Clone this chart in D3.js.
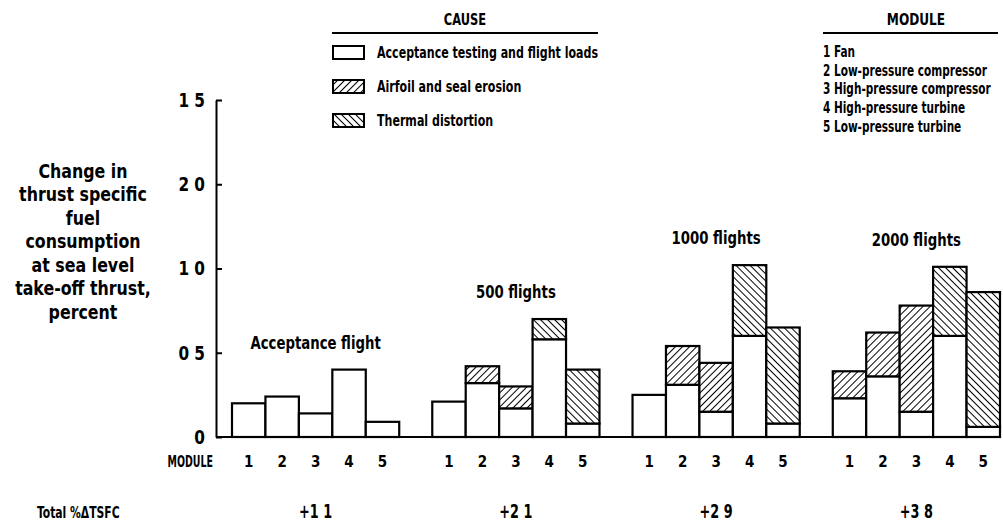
<!DOCTYPE html>
<html>
<head>
<meta charset="utf-8">
<script src="https://cdn.jsdelivr.net/npm/d3@7"></script>
<style>
  body { margin: 0; background: #fff; }
  svg text { font-family: "Liberation Sans Narrow", "Arial Narrow", "DejaVu Sans Condensed", sans-serif; font-weight: bold; fill: #000; }
</style>
</head>
<body>
<svg id="chart" width="1003" height="525"></svg>
<script>
// Data
const groups = ["Acceptance flight", "500 flights", "1000 flights", "2000 flights"];
const modules = ["1", "2", "3", "4", "5"];
const totals = ["+1 1", "+2 1", "+2 9", "+3 8"];

// percent change, per group, per module (stacked bottom to top)
const testing = [
    [0.20, 0.24, 0.14, 0.40, 0.09],
    [0.21, 0.32, 0.17, 0.58, 0.08],
    [0.25, 0.31, 0.15, 0.60, 0.08],
    [0.23, 0.36, 0.15, 0.60, 0.06]
];
const erosion = [
    [0, 0, 0, 0, 0],
    [0, 0.10, 0.13, 0, 0],
    [0, 0.23, 0.29, 0, 0],
    [0.16, 0.26, 0.63, 0, 0]
];
const thermal = [
    [0, 0, 0, 0, 0],
    [0, 0, 0, 0.12, 0.32],
    [0, 0, 0, 0.42, 0.57],
    [0, 0, 0, 0.41, 0.80]
];

const yTicks = [0, 0.5, 1.0, 1.5, 2.0];
const yTickLabels = ["0", "0 5", "1 0", "2 0", "1 5"];   // as printed

const causes = ["Acceptance testing and flight loads", "Airfoil and seal erosion", "Thermal distortion"];
const moduleNames = ["1 Fan", "2 Low-pressure compressor", "3 High-pressure compressor", "4 High-pressure turbine", "5 Low-pressure turbine"];
const yTitle = ["Change in", "thrust specific", "fuel", "consumption", "at sea level", "take-off thrust,", "percent"];

const svg = d3.select("#chart");

// squeeze a text horizontally around its own x, the printed face is a condensed one
function condense(sel, k) {
    sel.each(function() {
        const t = d3.select(this);
        const x = +t.attr("x") || 0;
        t.attr("transform", `translate(${x * (1 - k)},0) scale(${k},1)`);
    });
    return sel;
}

// hatch patterns
const defs = svg.append("defs");
function addHatch(id, angle) {
    const p = defs.append("pattern")
        .attr("id", id)
        .attr("patternUnits", "userSpaceOnUse")
        .attr("width", 5).attr("height", 5)
        .attr("patternTransform", `rotate(${angle})`);
    p.append("rect").attr("width", 5).attr("height", 5).attr("fill", "#fff");
    p.append("line").attr("x1", 0).attr("y1", 0).attr("x2", 0).attr("y2", 5)
        .attr("stroke", "#000").attr("stroke-width", 2);
}
addHatch("erosion", 45);
addHatch("thermal", -45);
const fills = ["#fff", "url(#erosion)", "url(#thermal)"];

// scales
const x0 = d3.scaleBand().domain(groups).range([232, 1000]).paddingInner(0.165).paddingOuter(0);
const x1 = d3.scaleBand().domain(modules).range([0, x0.bandwidth()]).padding(0);
const y = d3.scaleLinear().domain([0, 2]).range([437, 100]);

// y axis
const yAxis = d3.axisLeft(y)
    .tickValues(yTicks)
    .tickFormat((d, i) => yTickLabels[i])
    .tickSizeInner(-6)
    .tickSizeOuter(0)
    .tickPadding(11);
const ya = svg.append("g").attr("transform", "translate(216,0)").call(yAxis);
ya.select(".domain").attr("stroke-width", 2);
ya.selectAll(".tick line").attr("stroke-width", 2);
ya.selectAll(".tick text").style("font-size", "20px");
condense(ya.selectAll(".tick text"), 0.85);

// bars
groups.forEach((g, gi) => {
    const layers = [testing[gi], erosion[gi], thermal[gi]];
    const gEl = svg.append("g").attr("transform", `translate(${x0(g)},0)`);
    modules.forEach((m, mi) => {
        let base = 0;
        layers.forEach((layer, li) => {
            const v = layer[mi];
            if (v <= 0) return;
            gEl.append("rect")
                .attr("x", x1(m))
                .attr("y", y(base + v))
                .attr("width", x1.bandwidth())
                .attr("height", y(base) - y(base + v))
                .attr("fill", fills[li])
                .attr("stroke", "#000")
                .attr("stroke-width", 2.2);
            base += v;
        });
    });

    // group label
    const top = d3.max(modules, (m, mi) => testing[gi][mi] + erosion[gi][mi] + thermal[gi][mi]);
    condense(svg.append("text")
        .attr("x", x0(g) + x0.bandwidth() / 2)
        .attr("y", y(top) - 21)
        .attr("text-anchor", "middle")
        .style("font-size", "18px")
        .text(g), 0.82);

    // module numbers
    modules.forEach(m => {
        svg.append("text")
            .attr("x", x0(g) + x1(m) + x1.bandwidth() / 2)
            .attr("y", 467)
            .attr("text-anchor", "middle")
            .style("font-size", "15px")
            .text(m);
    });

    // totals
    condense(svg.append("text")
        .attr("x", x0(g) + x0.bandwidth() / 2)
        .attr("y", 518)
        .attr("text-anchor", "middle")
        .style("font-size", "19px")
        .text(totals[gi]), 0.75);
});

// baseline
svg.append("line")
    .attr("x1", 216).attr("x2", 1000)
    .attr("y1", y(0)).attr("y2", y(0))
    .attr("stroke", "#000").attr("stroke-width", 2);

condense(svg.append("text").attr("x", 213).attr("y", 467).attr("text-anchor", "end")
    .style("font-size", "15px").text("MODULE"), 0.7);
condense(svg.append("text").attr("x", 37).attr("y", 518)
    .style("font-size", "16px").text("Total %\u0394TSFC"), 0.75);

// y title
condense(svg.append("g").selectAll("text")
    .data(yTitle)
    .join("text")
    .attr("x", 83)
    .attr("y", (d, i) => 178 + i * 23.5)
    .attr("text-anchor", "middle")
    .style("font-size", "20px")
    .text(d => d), 0.88);

// cause legend
condense(svg.append("text").attr("x", 465).attr("y", 25).attr("text-anchor", "middle")
    .style("font-size", "15px").text("CAUSE"), 0.85);
svg.append("line").attr("x1", 332).attr("x2", 598).attr("y1", 33).attr("y2", 33)
    .attr("stroke", "#000").attr("stroke-width", 2);
causes.forEach((c, i) => {
    const cy = 53 + i * 34;
    svg.append("rect").attr("x", 333).attr("y", cy - 7).attr("width", 31).attr("height", 13)
        .attr("fill", fills[i]).attr("stroke", "#000").attr("stroke-width", 2);
    condense(svg.append("text").attr("x", 377).attr("y", cy + 5).style("font-size", "15px").text(c), 0.82);
});

// module legend
condense(svg.append("text").attr("x", 916).attr("y", 25).attr("text-anchor", "middle")
    .style("font-size", "15px").text("MODULE"), 0.9);
svg.append("line").attr("x1", 823).attr("x2", 998).attr("y1", 33).attr("y2", 33)
    .attr("stroke", "#000").attr("stroke-width", 2);
moduleNames.forEach((n, i) => {
    condense(svg.append("text").attr("x", 823).attr("y", 57 + i * 18.7)
        .style("font-size", "15px").text(n), 0.78);
});
</script>
</body>
</html>
